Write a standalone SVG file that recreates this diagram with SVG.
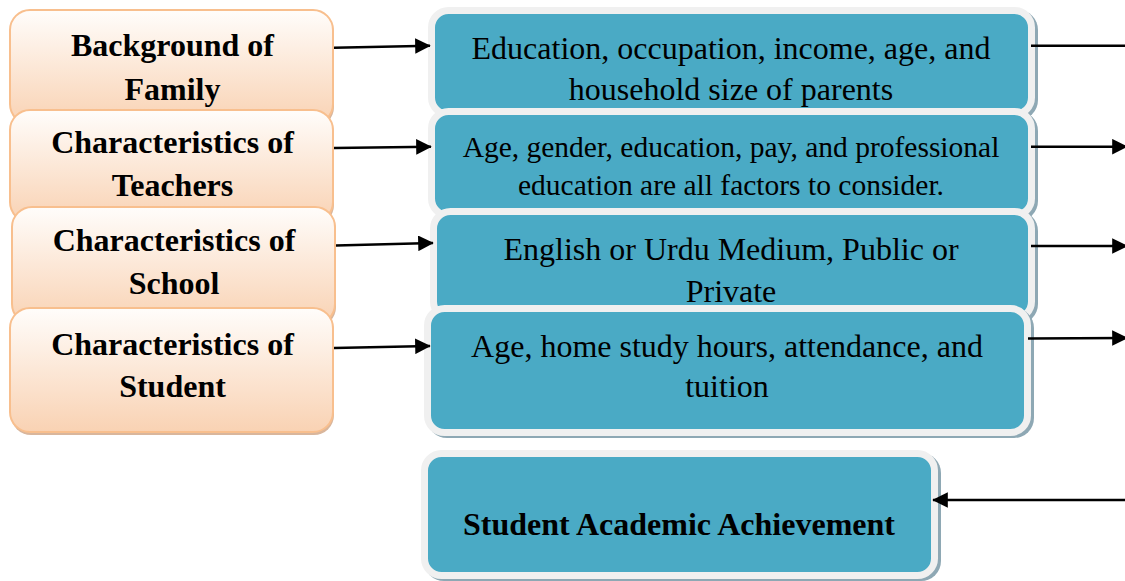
<svg xmlns="http://www.w3.org/2000/svg" width="1125" height="581" viewBox="0 0 1125 581">
  <defs>
    <linearGradient id="peach" x1="0" y1="0" x2="0" y2="1">
      <stop offset="0" stop-color="#fffdfb"/>
      <stop offset="1" stop-color="#f9d2b3"/>
    </linearGradient>
    <marker id="head" viewBox="0 0 10 10" refX="9.5" refY="5" markerWidth="6" markerHeight="6" markerUnits="strokeWidth" orient="auto">
      <path d="M0,0 L10,5 L0,10 Z" fill="#000"/>
    </marker>
    <style>
      .factor { fill: url(#peach); stroke: #f8bf8e; stroke-width: 2; }
      .fshadow { fill: #d9b69c; }
      .detail { fill: #4aaac5; stroke: #f0f0f0; stroke-width: 7; }
      .dshadow { fill: #8ea8b4; }
      text { font-family: 'Liberation Serif', serif; fill: #000; text-anchor: middle; }
      .hd { font-weight: bold; font-size: 32px; }
      .tx { font-size: 32px; }
      .sm { font-size: 29.5px; }
      .link { stroke: #000; stroke-width: 2.6; fill: none; }
    </style>
  </defs>

  <!-- factor boxes (left column), later ones overlap earlier ones -->
  <g id="family">
    <rect class="fshadow" x="11" y="13" width="323" height="114" rx="20"/>
    <rect class="factor" x="10" y="10" width="323" height="114" rx="20"/>
    <text class="hd" x="172.5" y="56">Background of</text>
    <text class="hd" x="172.5" y="100">Family</text>
  </g>
  <g id="teachers">
    <rect class="fshadow" x="11" y="113" width="323" height="112" rx="20"/>
    <rect class="factor" x="10" y="110" width="323" height="112" rx="20"/>
    <text class="hd" x="172.5" y="153">Characteristics of</text>
    <text class="hd" x="172.5" y="196">Teachers</text>
  </g>
  <g id="school">
    <rect class="fshadow" x="13" y="210" width="323" height="117" rx="20"/>
    <rect class="factor" x="12" y="207" width="323" height="117" rx="20"/>
    <text class="hd" x="174" y="251">Characteristics of</text>
    <text class="hd" x="174" y="294">School</text>
  </g>
  <g id="student">
    <rect class="fshadow" x="11" y="311" width="323" height="124" rx="20"/>
    <rect class="factor" x="10" y="308" width="323" height="124" rx="20"/>
    <text class="hd" x="172.5" y="355">Characteristics of</text>
    <text class="hd" x="172.5" y="397">Student</text>
  </g>

  <!-- detail boxes (middle column) -->
  <g id="family-detail">
    <rect class="dshadow" x="431" y="10" width="607" height="110" rx="20"/>
    <rect class="detail" x="431.5" y="10.5" width="600" height="104" rx="17"/>
    <text class="tx" x="731" y="59">Education, occupation, income, age, and</text>
    <text class="tx" x="731" y="100">household size of parents</text>
  </g>
  <g id="teachers-detail">
    <rect class="dshadow" x="431" y="111" width="607" height="110" rx="20"/>
    <rect class="detail" x="431.5" y="111.5" width="600" height="104" rx="17"/>
    <text class="tx sm" x="731" y="157">Age, gender, education, pay, and professional</text>
    <text class="tx sm" x="731" y="195">education are all factors to consider.</text>
  </g>
  <g id="school-detail">
    <rect class="dshadow" x="433" y="211" width="605" height="113" rx="20"/>
    <rect class="detail" x="433.5" y="211.5" width="598" height="107" rx="17"/>
    <text class="tx" x="731" y="260">English or Urdu Medium, Public or</text>
    <text class="tx" x="731" y="301.5">Private</text>
  </g>
  <g id="student-detail">
    <rect class="dshadow" x="427" y="308" width="607" height="130" rx="20"/>
    <rect class="detail" x="427.5" y="308.5" width="600" height="124" rx="17"/>
    <text class="tx" x="727" y="357">Age, home study hours, attendance, and</text>
    <text class="tx" x="727" y="397">tuition</text>
  </g>
  <g id="achievement">
    <rect class="dshadow" x="424" y="453" width="517" height="128" rx="20"/>
    <rect class="detail" x="424.5" y="453.5" width="510" height="122" rx="17"/>
    <text class="hd" x="679" y="534.5">Student Academic Achievement</text>
  </g>

  <!-- connectors -->
  <g id="connectors">
    <line class="link" x1="334" y1="47.7" x2="430" y2="45.7" marker-end="url(#head)"/>
    <line class="link" x1="334" y1="148" x2="431" y2="146.7" marker-end="url(#head)"/>
    <line class="link" x1="336" y1="245.5" x2="433" y2="243" marker-end="url(#head)"/>
    <line class="link" x1="334" y1="348" x2="430" y2="346" marker-end="url(#head)"/>
    <line class="link" x1="1031" y1="45.7" x2="1125" y2="45.7"/>
    <line class="link" x1="1031" y1="146.7" x2="1127" y2="146.7" marker-end="url(#head)"/>
    <line class="link" x1="1031" y1="246" x2="1127" y2="246" marker-end="url(#head)"/>
    <line class="link" x1="1028" y1="338.5" x2="1127" y2="338" marker-end="url(#head)"/>
    <line class="link" x1="1125" y1="500" x2="933" y2="500" marker-end="url(#head)"/>
  </g>
</svg>
